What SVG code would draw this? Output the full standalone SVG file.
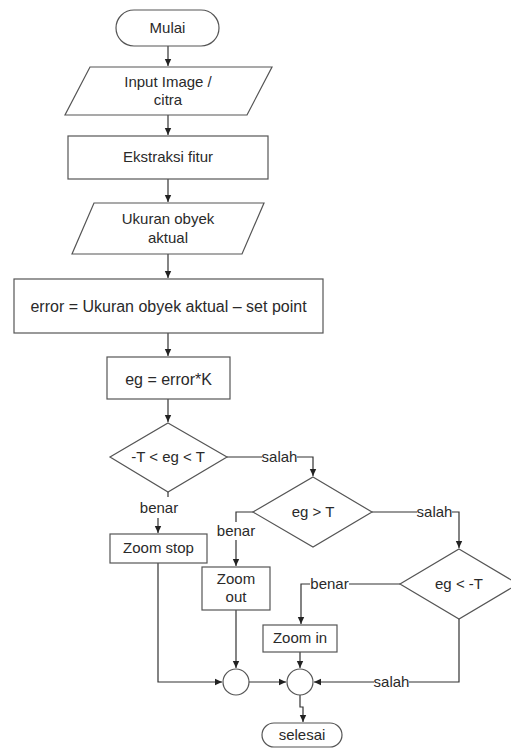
<svg xmlns="http://www.w3.org/2000/svg" width="511" height="749" viewBox="0 0 511 749">
<defs>
<marker id="ah" markerWidth="8" markerHeight="8" refX="7" refY="4" orient="auto" markerUnits="userSpaceOnUse">
<path d="M0,0.8 L7,4 L0,7.2 Z" fill="#222"/>
</marker>
<style>
.s{fill:#fff;stroke:#555;stroke-width:1.2}
.c{fill:none;stroke:#333;stroke-width:1.2}
.a{marker-end:url(#ah)}
text{font-family:"Liberation Sans",Arial,sans-serif;font-size:15px;fill:#2a2a2a;text-anchor:middle}
.big{font-size:16px}
</style>
</defs>
<rect width="511" height="749" fill="#fff"/>
<g id="connectors">
<path class="c a" d="M168,46 V66"/>
<path class="c a" d="M168,115 V135"/>
<path class="c a" d="M168,179 V202"/>
<path class="c a" d="M168,254 V278"/>
<path class="c a" d="M168,333 V356"/>
<path class="c a" d="M168,399 V422"/>
<path class="c" d="M227,457 H262"/>
<path class="c a" d="M297,457 H313 V476"/>
<path class="c" d="M168,492 V497"/>
<path class="c a" d="M158,518 V533"/>
<path class="c" d="M253,512 H236 V522"/>
<path class="c a" d="M236,540 V566"/>
<path class="c" d="M372,512 H417"/>
<path class="c a" d="M452,512 H459 V548"/>
<path class="c" d="M400,584 H349"/>
<path class="c a" d="M310,584 H301 V624"/>
<path class="c a" d="M158,563 V682 H222"/>
<path class="c a" d="M236,610 V668"/>
<path class="c a" d="M249,682 H286"/>
<path class="c a" d="M300,652 V668"/>
<path class="c" d="M459,619 V682 H409"/>
<path class="c a" d="M374,682 H314"/>
<path class="c a" d="M300,695 V707 H303 V722"/>
</g>
<g id="mulai"><rect class="s" x="116" y="10" width="103" height="36" rx="18"/><text x="167.5" y="33">Mulai</text></g>
<g id="input"><polygon class="s" points="90,67 272,67 247,115 65,115"/><text x="168" y="87">Input Image /</text><text x="168" y="105">citra</text></g>
<g id="ekstraksi"><rect class="s" x="68" y="136" width="200" height="43"/><text x="168" y="162">Ekstraksi fitur</text></g>
<g id="ukuran"><polygon class="s" points="94,203 264,203 242,254 72,254"/><text x="168" y="224">Ukuran obyek</text><text x="168" y="243">aktual</text></g>
<g id="error"><rect class="s" x="14" y="279" width="309" height="54"/><text class="big" x="168.5" y="312">error = Ukuran obyek aktual – set point</text></g>
<g id="eg"><rect class="s" x="107" y="357" width="123" height="42"/><text class="big" x="168.5" y="385">eg = error*K</text></g>
<g id="d1"><polygon class="s" points="168,423 227,457 168,492 110,457"/><text x="168" y="462">-T &lt; eg &lt; T</text></g>
<g id="d2"><polygon class="s" points="313,477 372,512 313,547 253,512"/><text x="313" y="517">eg &gt; T</text></g>
<g id="d3"><polygon class="s" points="459,549 518,584 459,619 400,584"/><text x="459" y="589">eg &lt; -T</text></g>
<g id="zoomstop"><rect class="s" x="110" y="534" width="97" height="29"/><text x="158.5" y="553">Zoom stop</text></g>
<g id="zoomout"><rect class="s" x="202" y="567" width="68" height="43"/><text x="236" y="584">Zoom</text><text x="236" y="602">out</text></g>
<g id="zoomin"><rect class="s" x="263" y="625" width="74" height="27"/><text x="300" y="643">Zoom in</text></g>
<g id="join1"><circle class="s" cx="236" cy="682" r="13"/></g>
<g id="join2"><circle class="s" cx="300" cy="682" r="13"/></g>
<g id="selesai"><rect class="s" x="262" y="723" width="80" height="24" rx="12"/><text x="302" y="740">selesai</text></g>
<g id="labels">
<text x="279.5" y="462">salah</text>
<text x="159" y="513">benar</text>
<text x="236" y="536">benar</text>
<text x="434.5" y="517">salah</text>
<text x="329.5" y="589">benar</text>
<text x="391.5" y="687">salah</text>
</g>
</svg>
